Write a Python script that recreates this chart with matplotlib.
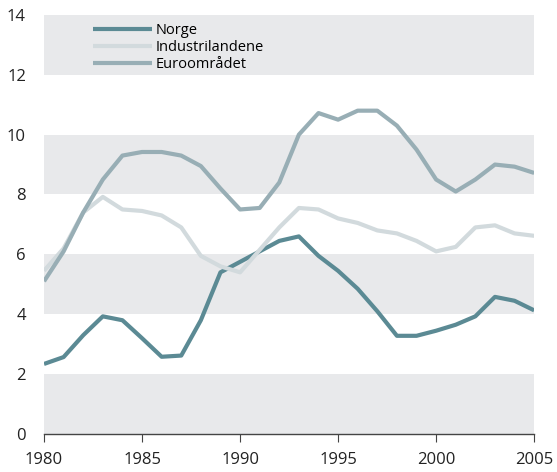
import matplotlib.pyplot as plt

years = list(range(1980, 2006))
norge = [2.34, 2.57, 3.3, 3.93, 3.8, 3.2, 2.58, 2.62, 3.8, 5.4, 5.75, 6.1, 6.45, 6.6,
         5.95, 5.45, 4.85, 4.1, 3.28, 3.28, 3.45, 3.65, 3.93, 4.58, 4.45, 4.13]
industri = [5.45, 6.2, 7.4, 7.92, 7.5, 7.45, 7.3, 6.9, 5.95, 5.6, 5.4, 6.15, 6.9, 7.55,
            7.5, 7.2, 7.05, 6.8, 6.7, 6.45, 6.1, 6.25, 6.9, 6.97, 6.7, 6.62]
euro = [5.1, 6.1, 7.4, 8.5, 9.3, 9.42, 9.42, 9.3, 8.95, 8.2, 7.5, 7.55, 8.4, 10.0,
        10.72, 10.5, 10.8, 10.8, 10.3, 9.5, 8.5, 8.1, 8.5, 9.0, 8.93, 8.72]

plt.rcParams['font.family'] = ['Open Sans', 'DejaVu Sans']

fig = plt.figure(figsize=(5.57, 4.72), dpi=100)
ax = fig.add_axes([0.079, 0.0805, 0.88, 0.888])

# bandes grises
for lo in [0, 4, 8, 12]:
    ax.axhspan(lo, lo + 2, color='#e8e9eb', lw=0, zorder=0)

ax.plot(years, norge, color='#5b8a94', lw=3, label='Norge', solid_capstyle='butt')
ax.plot(years, industri, color='#d2dadd', lw=3, label='Industrilandene', solid_capstyle='butt')
ax.plot(years, euro, color='#98aeb5', lw=3, label='Euroområdet', solid_capstyle='butt')

ax.set_xlim(1980, 2005)
ax.set_ylim(0, 14)
ax.set_xticks(range(1980, 2006, 5))
ax.set_yticks(range(0, 15, 2))
for s in ['top', 'right', 'left']:
    ax.spines[s].set_visible(False)
ax.spines['bottom'].set_color('#444444')
ax.spines['bottom'].set_linewidth(1)
ax.tick_params(axis='x', length=6, color='#444444', labelsize=12, pad=7, labelcolor='#222222')
ax.tick_params(axis='y', length=0, labelsize=12, pad=13, labelcolor='#222222')

ax.legend(loc='upper left', bbox_to_anchor=(0.074, 1.012), frameon=False, fontsize=10.5,
          handlelength=4.0, handletextpad=0.25, labelspacing=0.15)

fig.savefig('out.png', dpi=100)
